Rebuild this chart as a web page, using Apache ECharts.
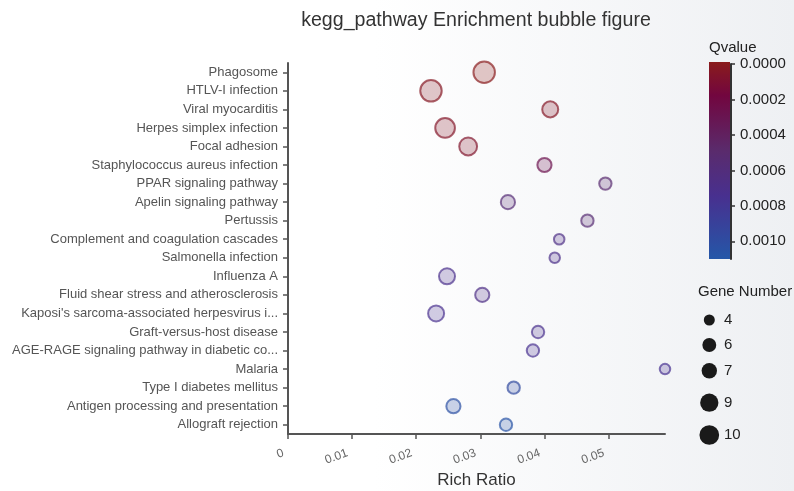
<!DOCTYPE html>
<html><head><meta charset="utf-8">
<script src="https://cdn.jsdelivr.net/npm/echarts@6/dist/echarts.min.js"></script>
<style>html,body{margin:0;padding:0;background:#fff}#c{width:794px;height:491px}</style>
</head><body><div id="c"></div>
<script>
// ---- data ----
const categories = [
  "Phagosome", "HTLV-I infection", "Viral myocarditis", "Herpes simplex infection",
  "Focal adhesion", "Staphylococcus aureus infection", "PPAR signaling pathway",
  "Apelin signaling pathway", "Pertussis", "Complement and coagulation cascades",
  "Salmonella infection", "Influenza A", "Fluid shear stress and atherosclerosis",
  "Kaposi's sarcoma-associated herpesvirus i...", "Graft-versus-host disease",
  "AGE-RAGE signaling pathway in diabetic co...", "Malaria", "Type I diabetes mellitus",
  "Antigen processing and presentation", "Allograft rejection"
];
const richRatio = [0.0306, 0.0223, 0.0409, 0.0245, 0.0281, 0.0400, 0.0495, 0.0343, 0.0467, 0.0423,
                   0.0416, 0.0248, 0.0303, 0.0231, 0.0390, 0.0382, 0.0588, 0.0352, 0.0258, 0.0340];
const geneNumber = [10, 10, 7, 9, 8, 6, 5, 6, 5, 4,
                    4, 7, 6, 7, 5, 5, 4, 5, 6, 5];
const qValue = [0.000003, 0.00004, 0.00005, 0.00006, 0.00008, 0.00028, 0.00052, 0.00056, 0.00054, 0.00068,
                0.00070, 0.00072, 0.00068, 0.00074, 0.00073, 0.00075, 0.00076, 0.00098, 0.00103, 0.00106];
const xTickInterval = 0.01;
const qMin = 0, qMax = 0.0011, qTickInterval = 0.0002;
const legendGenes = [4, 6, 7, 9, 10];

// ---- styling helpers ----
const colorStops = [
  [0.00, [138, 28, 28]],
  [0.17, [114, 6, 63]],
  [0.45, [90, 43, 108]],
  [0.68, [72, 48, 143]],
  [1.00, [36, 87, 168]]
];
function qColor(q, a) {
  let t = (q - qMin) / (qMax - qMin);
  t = Math.max(0, Math.min(1, t));
  for (let i = 1; i < colorStops.length; i++) {
    if (t <= colorStops[i][0]) {
      const [t0, c0] = colorStops[i - 1], [t1, c1] = colorStops[i];
      const f = (t - t0) / (t1 - t0);
      const c = c0.map((v, k) => Math.round(v + (c1[k] - v) * f));
      return 'rgba(' + c.join(',') + ',' + a + ')';
    }
  }
  return 'rgba(' + colorStops[colorStops.length - 1][1].join(',') + ',' + a + ')';
}
const bubbleSize = g => 3.2 + 1.83 * g;
const legendSize = g => 5.2 + 1.45 * g;

const points = categories.map((c, i) => ({
  value: [richRatio[i], c, geneNumber[i], qValue[i]],
  itemStyle: { color: qColor(qValue[i], 0.3), borderColor: qColor(qValue[i], 0.85), borderWidth: 2 }
}));

const FONT = "'Liberation Sans', Arial, Helvetica, sans-serif";
const legendRowsY = [320, 345, 370.7, 402.7, 435];
const legendGraphics = [{
  type: 'text', left: 698, top: 284,
  style: { text: 'Gene Number', font: '15px ' + FONT, fill: '#222' }
}];
legendGenes.forEach((g, i) => {
  legendGraphics.push({ type: 'circle', shape: { cx: 709.3, cy: legendRowsY[i], r: legendSize(g) / 2 }, style: { fill: '#1a1a1a' } });
  legendGraphics.push({ type: 'text', x: 724, y: legendRowsY[i], style: { text: String(g), font: '15px ' + FONT, fill: '#222', textVerticalAlign: 'middle' } });
});

const gradStops = colorStops.map(s => ({ offset: s[0], color: 'rgb(' + s[1].join(',') + ')' }));

const chart = echarts.init(document.getElementById('c'), null, { renderer: 'canvas' });
chart.setOption({
  animation: false,
  backgroundColor: new echarts.graphic.LinearGradient(0, 0, 1, 0, [
    { offset: 0, color: '#ffffff' }, { offset: 0.47, color: '#ffffff' }, { offset: 1, color: '#eef0f3' }
  ]),
  textStyle: { fontFamily: FONT },
  title: {
    text: 'kegg_pathway Enrichment bubble figure',
    left: 471, top: 6, textAlign: 'center',
    textStyle: { fontSize: 19.6, fontWeight: 'normal', color: '#333', fontFamily: FONT }
  },
  grid: [
    { left: 288, top: 63, width: 377, height: 371, outerBoundsMode: 'none', containLabel: false },
    { left: 731, top: 64, width: 20, height: 195, outerBoundsMode: 'none', containLabel: false }
  ],
  xAxis: [{
    type: 'value', gridIndex: 0, min: 0, max: 'dataMax', interval: xTickInterval,
    name: 'Rich Ratio', nameLocation: 'middle', nameGap: 38,
    nameTextStyle: { fontSize: 17, color: '#333' },
    axisLine: { show: true, lineStyle: { color: '#555', width: 2 } },
    axisTick: { show: true, length: 5, lineStyle: { color: '#555', width: 1.5 } },
    axisLabel: { rotate: 20, fontSize: 12, color: '#666', showMaxLabel: false, margin: 17, padding: [0, 5, 0, 0] },
    splitLine: { show: false }
  }, {
    type: 'value', gridIndex: 1, show: false, min: 0, max: 1
  }],
  yAxis: [{
    type: 'category', gridIndex: 0, data: categories, inverse: true,
    axisLine: { show: true, lineStyle: { color: '#555', width: 2 } },
    axisTick: { show: true, alignWithLabel: true, length: 5, lineStyle: { color: '#555', width: 1.5 } },
    axisLabel: { fontSize: 13, color: '#555', margin: 10 },
    splitLine: { show: false }
  }, {
    type: 'value', gridIndex: 1, position: 'left', inverse: true,
    min: qMin, max: qMax, interval: qTickInterval,
    axisLine: { show: true, lineStyle: { color: '#333', width: 2 } },
    axisTick: { show: true, inside: true, length: 4, lineStyle: { color: '#333', width: 1.5 } },
    axisLabel: { inside: true, fontSize: 15, color: '#222', margin: 9, showMaxLabel: false, formatter: v => v.toFixed(4) },
    splitLine: { show: false }
  }],
  series: [{
    type: 'scatter', xAxisIndex: 0, yAxisIndex: 0,
    data: points,
    symbolSize: v => bubbleSize(v[2]),
    clip: false
  }],
  graphic: [
    { type: 'rect', shape: { x: 709, y: 62, width: 21, height: 197 }, style: { fill: new echarts.graphic.LinearGradient(0, 0, 0, 1, gradStops) }, z: -1 },
    { type: 'text', left: 709, top: 40, style: { text: 'Qvalue', font: '15px ' + FONT, fill: '#222' } }
  ].concat(legendGraphics)
});
</script>
</body></html>
